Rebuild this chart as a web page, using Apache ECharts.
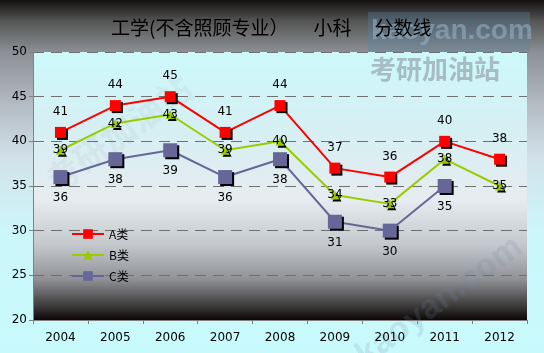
<!DOCTYPE html>
<html>
<head>
<meta charset="utf-8">
<script src="https://cdn.jsdelivr.net/npm/echarts@6/dist/echarts.min.js"></script>
<style>
  html, body { margin: 0; padding: 0; }
  #chart { width: 544px; height: 353px; }
</style>
</head>
<body>
<div id="chart"></div>
<script>
var years = ['2004', '2005', '2006', '2007', '2008', '2009', '2010', '2011', '2012'];
var aValues = [41, 44, 45, 41, 44, 37, 36, 40, 38];
var bValues = [39, 42, 43, 39, 40, 34, 33, 38, 35];
var cValues = [36, 38, 39, 36, 38, 31, 30, 35, null];

var chart = echarts.init(document.getElementById('chart'), null, { renderer: 'canvas' });

var shadow = { shadowColor: '#000', shadowBlur: 0, shadowOffsetX: 2, shadowOffsetY: 2 };
var labelFont = { color: '#000', fontSize: 12, fontFamily: 'DejaVu Sans' };
var titleFont = { fontFamily: 'Noto Sans CJK SC', fontSize: 19, fontWeight: 'normal', color: '#000' };

chart.setOption({
  animation: false,
  backgroundColor: new echarts.graphic.LinearGradient(0, 0, 0, 1, [
    { offset: 0, color: '#141010' },
    { offset: 0.06, color: '#555555' },
    { offset: 0.15, color: '#8d9196' },
    { offset: 0.3, color: '#b4bcc4' },
    { offset: 0.45, color: '#d2e2ea' },
    { offset: 0.65, color: '#ccf6fa' },
    { offset: 1, color: '#c8fafc' }
  ]),
  title: {
    text: '{t|工学(不含照顾专业）}{s1|}{t|小科}{s2|}{t|分数线}',
    left: 106,
    top: 13,
    textStyle: {
      fontWeight: 'normal',
      rich: {
        t: titleFont,
        s1: { width: 25 },
        s2: { width: 23 }
      }
    }
  },
  graphic: [
    {
      type: 'rect', left: 368, top: 12,
      shape: { width: 162, height: 40 },
      style: { fill: 'rgba(90,130,160,0.35)' }
    },
    {
      type: 'text', left: 371, top: 17,
      style: { text: 'kaoyan.com', fontSize: 28, fontFamily: 'Liberation Sans', fontWeight: 'bold', fill: 'rgba(150,180,200,0.55)' }
    },
    {
      type: 'text', left: 370, top: 56,
      style: { text: '考研加油站', fontSize: 26, fontFamily: 'Noto Sans CJK SC', fontWeight: 'bold', fill: 'rgba(140,150,158,0.6)' }
    },
    {
      type: 'text', left: 40, top: 70, rotation: Math.PI / 5,
      style: { text: '考研加油站', fontSize: 34, fontFamily: 'Noto Sans CJK SC', fontWeight: 'bold', fill: 'rgba(150,170,185,0.12)' }
    },
    {
      type: 'text', left: 350, top: 230, rotation: Math.PI / 5,
      style: { text: 'kaoyan.com', fontSize: 34, fontFamily: 'Liberation Sans', fontWeight: 'bold', fill: 'rgba(110,140,165,0.18)' }
    }
  ],
  grid: {
    left: 33, right: 17, top: 52, bottom: 33,
    show: true,
    borderWidth: 0,
    backgroundColor: new echarts.graphic.LinearGradient(0, 0, 0, 1, [
      { offset: 0, color: '#ccf9fb' },
      { offset: 0.3, color: '#d6eff3' },
      { offset: 0.55, color: '#e6ecef' },
      { offset: 0.72, color: '#c4c8cc' },
      { offset: 0.85, color: '#8e9094' },
      { offset: 0.95, color: '#3a3838' },
      { offset: 1, color: '#0c0606' }
    ])
  },
  legend: {
    orient: 'vertical',
    left: 66,
    top: 223,
    itemGap: 9,
    itemWidth: 32,
    itemHeight: 12,
    textStyle: { fontSize: 12, fontFamily: 'Noto Sans CJK SC', color: '#000' },
    data: ['A类', 'B类', 'C类']
  },
  xAxis: {
    type: 'category',
    data: years,
    boundaryGap: true,
    axisLine: { lineStyle: { color: '#808080' } },
    axisTick: { show: true, length: 4, lineStyle: { color: '#808080' } },
    axisLabel: { color: '#000', fontSize: 12, fontFamily: 'DejaVu Sans', margin: 12 },
    splitLine: { show: false }
  },
  yAxis: {
    type: 'value',
    min: 20,
    max: 50,
    interval: 5,
    axisLine: { show: true, lineStyle: { color: '#808080' } },
    axisTick: { show: true, length: 4, lineStyle: { color: '#808080' } },
    axisLabel: { color: '#000', fontSize: 12, fontFamily: 'DejaVu Sans', margin: 6 },
    splitLine: { lineStyle: { color: '#707070', type: [11, 7], width: 1 } }
  },
  series: [
    {
      name: 'A类',
      type: 'line',
      data: aValues,
      symbol: 'rect',
      symbolSize: 11,
      lineStyle: { color: '#ff0000', width: 2 },
      itemStyle: Object.assign({ color: '#ff0000' }, shadow),
      label: Object.assign({ show: true, position: 'top', distance: 9 }, labelFont),
      z: 4
    },
    {
      name: 'B类',
      type: 'line',
      data: bValues,
      symbol: 'triangle',
      symbolSize: 9,
      lineStyle: { color: '#99cc00', width: 2 },
      itemStyle: Object.assign({ color: '#99cc00' }, shadow),
      label: Object.assign({ show: true, position: 'inside' }, labelFont),
      z: 3
    },
    {
      name: 'C类',
      type: 'line',
      data: cValues,
      symbol: 'rect',
      symbolSize: 14,
      lineStyle: { color: '#666699', width: 2 },
      itemStyle: Object.assign({ color: '#666699' }, shadow),
      label: Object.assign({ show: true, position: 'bottom', distance: 8 }, labelFont),
      z: 2
    }
  ]
});
window.addEventListener('resize', function() { chart.resize(); });
</script>
</body>
</html>
